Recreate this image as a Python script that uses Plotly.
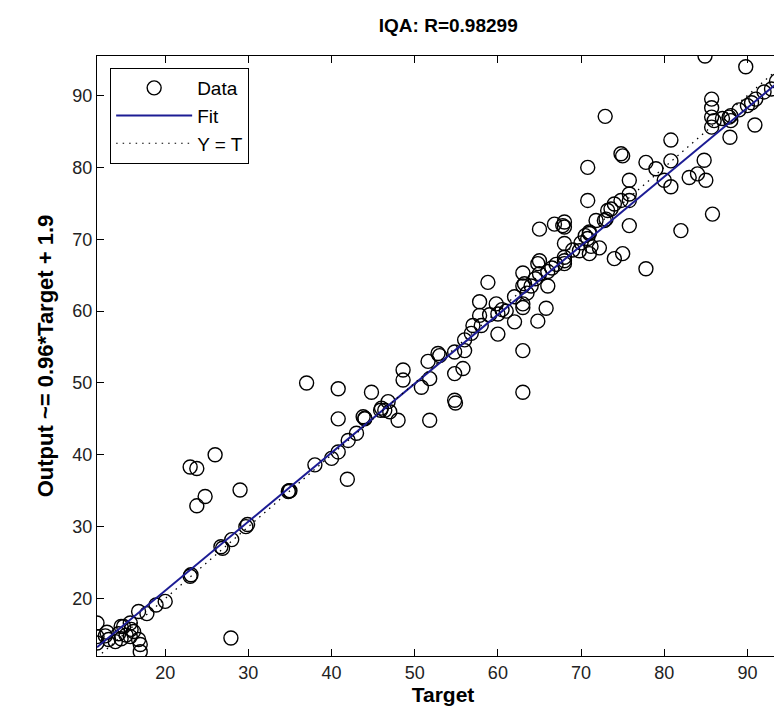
import plotly.graph_objects as go

# Regression plot: network output vs target
target = [
    11.8, 11.8, 11.8, 13.2, 14.4, 14.7, 15.0, 15.8, 15.9, 15.8, 16.8, 17.0, 17.0, 16.8, 17.8, 18.9,
    20.0, 14.7, 15.3, 16.2, 13.0, 14.0, 12.8,
    23.0, 23.1, 26.7, 26.9, 28.0, 29.7, 29.9, 27.9, 34.8, 34.9,
    23.0, 23.8, 26.0, 29.0, 24.8, 23.8,
    38.0, 40.0, 40.8, 42.0, 43.0, 41.9,
    37.0, 40.8, 44.8, 40.8, 43.8, 44.0, 46.8, 46.4, 48.0, 47.0, 45.9,
    48.6, 48.6, 50.8, 51.8, 51.6, 52.8, 53.0, 54.8, 56.0, 55.8, 54.8, 54.8, 54.9, 51.8,
    56.8, 57.8, 57.8, 59.8, 60.0, 60.0, 58.8, 62.0,
    63.0, 63.0, 63.2, 63.0, 63.0, 63.0, 63.0,
    64.8, 65.0, 66.0, 65.8, 64.8, 65.0,
    66.8, 68.0, 68.0, 68.0, 68.0, 68.0, 68.0, 65.0,
    70.8, 71.0, 71.2, 72.2, 71.0, 69.8, 71.8, 73.0, 73.6, 74.0, 75.0, 75.8, 77.8, 82.0, 85.8,
    84.9, 89.8, 92.9, 91.0, 90.0, 90.9, 85.7, 85.7, 85.7, 85.7, 87.8, 88.0, 87.9,
    72.9, 80.8, 74.8, 75.0, 77.8, 79.0, 80.8, 84.8, 80.0, 80.8, 83.0, 84.0, 85.0,
    75.8, 75.8, 75.8, 74.0, 73.2, 74.8, 70.8, 70.8, 67.8, 72.8,
    58.0, 59.0, 61.0, 62.0, 60.5, 56.0, 57.0, 44.0, 46.0, 35.0,
    63.5, 64.0, 64.5, 66.0, 66.5, 67.0, 69.0, 70.0, 70.5, 71.0,
    86.0, 87.0, 88.0, 89.0, 90.5, 92.0, 93.5,
]
output = [
    16.6, 14.7, 13.8, 14.3, 15.1, 14.4, 16.1, 16.6, 15.7, 14.7, 14.3, 13.6, 12.6, 18.2, 17.9, 19.1,
    19.6, 16.1, 14.9, 15.4, 15.3, 14.0, 14.8,
    23.1, 23.3, 27.2, 27.0, 28.2, 30.0, 30.3, 14.5, 34.9, 35.0,
    38.3, 38.1, 40.0, 35.1, 34.2, 32.9,
    38.6, 39.5, 40.4, 42.0, 43.0, 36.6,
    50.0, 49.2, 48.7, 45.0, 45.3, 45.1, 47.4, 46.2, 44.8, 46.0, 46.2,
    51.8, 50.4, 49.4, 50.6, 53.0, 54.1, 53.8, 54.3, 54.5, 52.0, 51.3, 47.6, 47.2, 44.8,
    56.9, 59.4, 61.3, 61.0, 59.6, 56.8, 64.0, 58.5,
    65.3, 63.5, 63.8, 61.0, 60.5, 54.5, 48.7,
    66.6, 65.2, 63.5, 60.4, 58.6, 67.0,
    72.1, 72.4, 71.7, 69.4, 67.5, 66.6, 67.0, 71.4,
    70.1, 70.8, 69.0, 68.8, 68.0, 68.4, 72.6, 72.8, 74.2, 67.3, 68.0, 71.9, 65.9, 71.2, 73.5,
    95.5, 94.0, 90.9, 89.5, 88.6, 85.9, 89.5, 88.3, 87.0, 85.6, 87.0, 86.5, 84.2,
    87.1, 83.8, 81.9, 81.6, 80.7, 79.8, 80.9, 81.0, 78.2, 77.3, 78.6, 79.1, 78.2,
    78.2, 76.3, 75.4, 74.9, 74.0, 75.4, 80.0, 75.4, 71.9, 72.6,
    58.0, 59.5, 60.0, 62.0, 60.2, 56.0, 58.0, 45.0, 46.5, 35.0,
    62.5, 63.5, 64.5, 65.5, 66.0, 66.5, 68.5, 69.5, 70.5, 71.0,
    86.5, 86.8, 87.2, 88.0, 89.0, 90.5, 92.0,
]

# fit from the axis label, and the axis limits
fit_slope = 0.96
fit_intercept = 1.9
axis_lim = [11.8, 95.5]

fit_y = [fit_slope * v + fit_intercept for v in axis_lim]

font_name = "Liberation Sans, Arial, sans-serif"

fig = go.Figure()

fig.add_trace(go.Scatter(
    x=target, y=output,
    mode="markers",
    name="Data",
    marker=dict(symbol="circle-open", size=14, color="black", line=dict(width=1.4, color="black")),
    cliponaxis=True
))

fig.add_trace(go.Scatter(
    x=axis_lim, y=fit_y,
    mode="lines",
    name="Fit",
    line=dict(color="#1c1c94", width=2)
))

fig.add_trace(go.Scatter(
    x=axis_lim, y=axis_lim,
    mode="lines",
    name="Y = T",
    line=dict(color="black", width=1.2, dash="1.5px,5px")
))

axis_style = dict(
    showline=True, linecolor="black", linewidth=1, mirror="allticks",
    ticks="inside", ticklen=7, tickcolor="black",
    showgrid=False, zeroline=False,
    tickfont=dict(family=font_name, size=18, color="#222"),
    automargin=False
)

fig.update_xaxes(
    range=[11.8, 95.0],
    tickvals=[20, 30, 40, 50, 60, 70, 80, 90],
    title=dict(text="<b>Target</b>", font=dict(family=font_name, size=21, color="black"), standoff=3),
    **axis_style
)
fig.update_yaxes(
    range=[12.0, 95.5],
    tickvals=[20, 30, 40, 50, 60, 70, 80, 90],
    title=dict(text="<b>Output ~= 0.96*Target + 1.9</b>", font=dict(family=font_name, size=22, color="black"), standoff=12),
    **axis_style
)

fig.update_layout(
    width=782, height=711,
    margin=dict(l=89, r=1, t=48, b=63),
    paper_bgcolor="white", plot_bgcolor="white",
    title=dict(text="<b>IQA: R=0.98299</b>", x=0.563, xanchor="center", y=0.975, yanchor="middle",
               font=dict(family=font_name, size=19, color="black")),
    legend=dict(
        x=0.019, y=0.98, xanchor="left", yanchor="top",
        bgcolor="white", bordercolor="black", borderwidth=1,
        font=dict(family=font_name, size=19, color="black"),
        itemwidth=76, tracegroupgap=0
    ),
    showlegend=True
)

fig.write_html("out.html")
